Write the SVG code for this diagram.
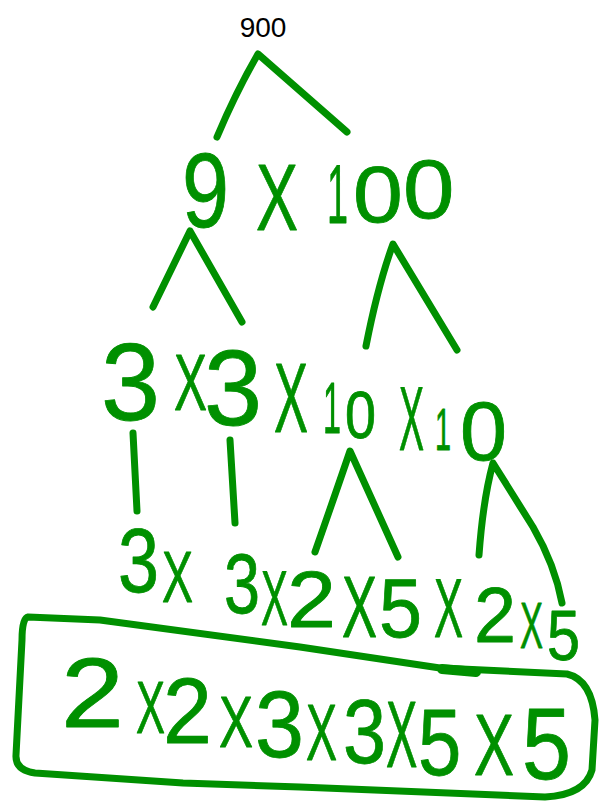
<svg xmlns="http://www.w3.org/2000/svg" width="600" height="803" viewBox="0 0 600 803">
<style>
  .ink { fill: #009000; stroke: #009000; stroke-width: 0.8; stroke-linejoin: round; font-family: "Liberation Sans", Arial, sans-serif; }
  .pen { fill: none; stroke: #009000; stroke-width: 7; stroke-linecap: round; stroke-linejoin: round; }
  .top { fill: #000; font-family: "Liberation Sans", Arial, sans-serif; font-size: 28px; text-anchor: middle; }
</style>
<rect width="600" height="803" fill="#fff"/>

<g id="connectors" class="pen">
  <path d="M217,137 Q236,92 258,54 L347,132"/>
  <path d="M153,307 L190,231 L242,322"/>
  <path d="M366,346 Q378,285 393,244 L457,350"/>
  <path d="M133,433 L137,511"/>
  <path d="M230,440 L235,523"/>
  <path d="M315,552 Q335,495 350,451 L398,557"/>
  <path d="M479,555 Q483,500 493,463 L533,527 Q555,565 562,603"/>
</g>

<g id="node-900">
  <text class="top" x="263" y="37">900</text>
</g>

<g id="node-9x100">
  <text class="ink" font-size="105" transform="translate(182,227) scale(0.805,1)">9</text>
  <text class="ink" font-size="95" transform="translate(256,230) scale(0.663,1)">X</text>
  <text class="ink" font-size="84" transform="translate(327,223) scale(0.45,1)">1</text>
  <text class="ink" font-size="80" transform="translate(353,222) scale(1.12,1)">0</text>
  <text class="ink" font-size="84" transform="translate(403,218) scale(1.1,1)">0</text>
</g>

<g id="node-3x3x10x10">
  <text class="ink" font-size="109" transform="translate(101,420) scale(0.974,1)">3</text>
  <text class="ink" font-size="80" transform="translate(174,410) scale(0.618,1)">X</text>
  <text class="ink" font-size="108" transform="translate(204,425) scale(0.967,1)">3</text>
  <text class="ink" font-size="98" transform="translate(274,432) scale(0.52,1)">X</text>
  <text class="ink" font-size="72" transform="translate(323,433) scale(0.45,1)">1</text>
  <text class="ink" font-size="67" transform="translate(345,438) scale(0.832,1)">0</text>
  <text class="ink" font-size="91" transform="translate(399,450) scale(0.412,1)">X</text>
  <text class="ink" font-size="60" transform="translate(435,450) scale(0.48,1)">1</text>
  <text class="ink" font-size="84" transform="translate(460,460) scale(1.006,1)">0</text>
</g>

<g id="node-3x3x2x5x2x5">
  <text class="ink" font-size="91" transform="translate(118,592) scale(0.81,1)">3</text>
  <text class="ink" font-size="73" transform="translate(162,602) scale(0.637,1)">X</text>
  <text class="ink" font-size="85" transform="translate(224,613) scale(0.761,1)">3</text>
  <text class="ink" font-size="77" transform="translate(261,625) scale(0.525,1)">X</text>
  <text class="ink" font-size="80" transform="translate(287,627) scale(1.101,1)">2</text>
  <text class="ink" font-size="87" transform="translate(342,637) scale(0.603,1)">X</text>
  <text class="ink" font-size="84" transform="translate(379,637) scale(0.921,1)">5</text>
  <text class="ink" font-size="84" transform="translate(434,637) scale(0.518,1)">X</text>
  <text class="ink" font-size="77" transform="translate(474,642) scale(0.981,1)">2</text>
  <text class="ink" font-size="64" transform="translate(520,648) scale(0.539,1)">X</text>
  <text class="ink" font-size="70" transform="translate(547,660) scale(0.848,1)">5</text>
</g>

<g id="node-result">
  <path class="pen" d="M28,617 L100,620 L300,647 L440,668 L567,674 Q592,680 595,720 L592,770 Q585,795 545,797 L300,787 L183,783 L35,773 Q15,770 16,755 L22,640 Q22,618 28,617 Z"/>
  <path class="pen" style="stroke-width:10" d="M442,669 L476,672"/>
  <text class="ink" font-size="98" transform="translate(61,727) scale(1.156,1)">2</text>
  <text class="ink" font-size="74" transform="translate(136,733) scale(0.587,1)">X</text>
  <text class="ink" font-size="92" transform="translate(163,743) scale(0.957,1)">2</text>
  <text class="ink" font-size="73" transform="translate(219,747) scale(0.698,1)">X</text>
  <text class="ink" font-size="94" transform="translate(255,757) scale(0.937,1)">3</text>
  <text class="ink" font-size="80" transform="translate(306,760) scale(0.581,1)">X</text>
  <text class="ink" font-size="91" transform="translate(343,763) scale(0.85,1)">3</text>
  <text class="ink" font-size="94" transform="translate(386,767) scale(0.5,1)">X</text>
  <text class="ink" font-size="95" transform="translate(418,775) scale(0.82,1)">5</text>
  <text class="ink" font-size="88" transform="translate(474,775) scale(0.681,1)">X</text>
  <text class="ink" font-size="102" transform="translate(522,779) scale(0.864,1)">5</text>
</g>
</svg>
